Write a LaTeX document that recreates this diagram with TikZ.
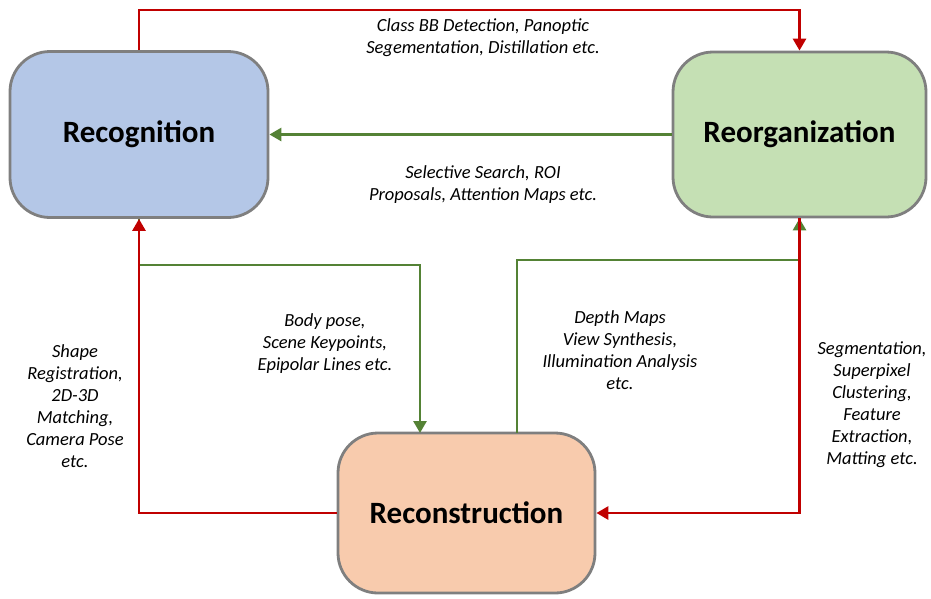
\documentclass[tikz,border=0pt]{standalone}
\usepackage{fontspec}
\setmainfont{Carlito}
\usetikzlibrary{arrows.meta}
\definecolor{cred}{HTML}{C00000}
\definecolor{cgreen}{HTML}{548235}
\definecolor{cborder}{HTML}{7F7F7F}
\definecolor{fblue}{HTML}{B4C7E7}
\definecolor{fgreen}{HTML}{C5E0B4}
\definecolor{forange}{HTML}{F8CBAD}
\tikzset{
  stage/.style={draw=cborder, line width=2.8pt, rounded corners=40pt,
    minimum width=#1, align=center, inner sep=0pt,
    font=\fontsize{31}{34}\selectfont\bfseries},
  redline/.style={draw=cred, line width=2.8pt, -{Triangle[length=12pt,width=13pt]}},
  greenline/.style={draw=cgreen, line width=2.8pt, -{Triangle[length=12pt,width=13pt]}},
  note/.style={align=center, font=\fontsize{18.5}{22}\selectfont\itshape, inner sep=0pt},
}
\begin{document}
\begin{tikzpicture}[x=1pt,y=-1pt]
\useasboundingbox (0,0) rectangle (931,598);

% the three stages
\node[stage=258pt, fill=fblue, minimum height=166pt] (rec) at (139,134.5) {Recognition};
\node[stage=253pt, fill=fgreen, minimum height=165pt] (reorg) at (799.5,134.5) {Reorganization};
\node[stage=257pt, fill=forange, minimum height=160pt] (recon) at (466.5,513) {Reconstruction};

% routing points
\coordinate (topbend) at (470,10);
\coordinate (lowbend) at (300,265);
\coordinate (rin) at (420,433);
\coordinate (rout) at (517,433);
\coordinate (midbend) at (650,260);

% green links
\draw[greenline] (reorg.west) -- (rec.east);
\draw[greenline] (rec.south) |- (lowbend) -| (rin);
\draw[greenline] (rout) |- (midbend) -| (reorg.south);

% red links
\draw[redline] (rec.north) |- (topbend) -| (reorg.north);
\draw[redline] (recon.west) -| (rec.south);
\draw[redline] (reorg.south) |- (recon.east);

% labels
\node[note] (t1) at (483,38) {Class BB Detection, Panoptic\\Segementation, Distillation etc.};
\node[note] (t2) at (483,185) {Selective Search, ROI\\Proposals, Attention Maps etc.};
\node[note] (t3) at (75,406) {Shape\\Registration,\\2D-3D\\Matching,\\Camera Pose\\etc.};
\node[note] (t4) at (325,344) {Body pose,\\Scene Keypoints,\\Epipolar Lines etc.};
\node[note] (t5) at (620,350) {Depth Maps\\View Synthesis,\\Illumination Analysis\\etc.};
\node[note] (t6) at (872,405) {Segmentation,\\Superpixel\\Clustering,\\Feature\\Extraction,\\Matting etc.};
\end{tikzpicture}
\end{document}
